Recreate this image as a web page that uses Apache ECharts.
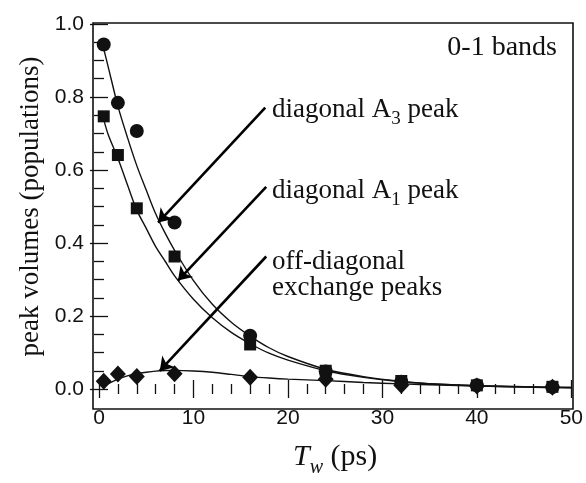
<!DOCTYPE html>
<html><head><meta charset="utf-8">
<script src="https://cdn.jsdelivr.net/npm/echarts@6/dist/echarts.min.js"></script>
<style>html,body{margin:0;padding:0;background:#fff}#c{width:586px;height:483px}</style>
</head><body><div id="c"></div>
<script>
// measured points
const markerX   = [0.5, 2, 4, 8, 16, 24, 32, 40, 48];
const a3Points  = [0.944, 0.784, 0.707, 0.456, 0.146, 0.048, 0.020, 0.010, 0.005];
const a1Points  = [0.747, 0.641, 0.495, 0.363, 0.122, 0.050, 0.022, 0.010, 0.006];
const exPoints  = [0.021, 0.041, 0.034, 0.042, 0.032, 0.027, 0.010, 0.008, 0.005];
// fitted curves
const curveX  = [0.5, 1, 2, 3, 4, 5, 6, 7, 8, 10, 12, 14, 16, 18, 20, 24, 28, 32, 36, 40, 45, 50];
const a3Curve = [0.932, 0.88, 0.775, 0.69, 0.612, 0.545, 0.48, 0.427, 0.38, 0.297, 0.232, 0.183, 0.145, 0.113, 0.089, 0.054, 0.034, 0.021, 0.013, 0.009, 0.006, 0.004];
const a1Curve = [0.738, 0.695, 0.632, 0.56, 0.49, 0.44, 0.39, 0.35, 0.31, 0.246, 0.195, 0.155, 0.124, 0.098, 0.079, 0.05, 0.032, 0.02, 0.013, 0.009, 0.005, 0.003];
const exCurve = [0.008, 0.015, 0.027, 0.036, 0.042, 0.046, 0.049, 0.0505, 0.051, 0.0495, 0.046, 0.04, 0.034, 0.03, 0.027, 0.023, 0.018, 0.014, 0.011, 0.008, 0.006, 0.004];
// annotation arrows (data coords)
const arrowFrom = [[17.6, 0.771], [17.7, 0.554], [17.7, 0.363]];
const arrowTo   = [[6.26, 0.456], [8.36, 0.297], [6.43, 0.0495]];
const xTickLabels = ['0', '10', '20', '30', '40', '50'];

const ink = '#111';
const sans = 'Liberation Sans';
const serif = 'Liberation Serif';
const pairs = (xs, ys) => xs.map((x, i) => [x, ys[i]]);

const tickCommon = {
  axisLine: { show: false },
  axisTick: { show: true, inside: true, length: 9, lineStyle: { color: ink, width: 1.3 } },
  minorTick: { show: true, length: 5, lineStyle: { color: ink, width: 1.3 } },
  splitLine: { show: false }
};

const chart = echarts.init(document.getElementById('c'), null, { renderer: 'canvas' });
const curveStyle = { color: ink, width: 1.4 };
const markStyle = { color: ink, opacity: 1 };
chart.setOption({
  animation: false,
  backgroundColor: '#fff',
  grid: [
    { left: 99, right: 13, top: 24, bottom: 81 },
    { left: 93, right: 13, top: 23, bottom: 74, show: true, borderColor: ink, borderWidth: 1.6, backgroundColor: 'transparent', z: 0 }
  ],
  xAxis: [
    Object.assign({}, tickCommon, {
      type: 'value', gridIndex: 0, position: 'bottom', min: 0, max: 50, interval: 10, offset: 7,
      minorTick: Object.assign({}, tickCommon.minorTick, { splitNumber: 5 }),
      axisLabel: { margin: 12, fontSize: 21, fontFamily: sans, color: ink,
        formatter: v => xTickLabels[Math.round(v / 10)] },
      name: '{i|T}{s|w}{n| (ps)}', nameLocation: 'middle', nameGap: 46,
      nameTextStyle: { rich: {
        i: { fontFamily: serif, fontStyle: 'italic', fontSize: 30, color: ink, lineHeight: 34, verticalAlign: 'top' },
        s: { fontFamily: serif, fontStyle: 'italic', fontSize: 20, color: ink, lineHeight: 20, verticalAlign: 'top', padding: [16, 0, 0, 0] },
        n: { fontFamily: serif, fontSize: 30, color: ink, lineHeight: 34, verticalAlign: 'top' }
      } }
    }),
    Object.assign({}, tickCommon, {
      type: 'value', gridIndex: 0, position: 'top', min: 0, max: 50, interval: 10, offset: 1,
      minorTick: Object.assign({}, tickCommon.minorTick, { splitNumber: 5 }),
      axisLabel: { show: false }
    }),
    { type: 'value', gridIndex: 1, show: false, min: 0, max: 1 }
  ],
  yAxis: [
    Object.assign({}, tickCommon, {
      type: 'value', gridIndex: 0, position: 'left', min: 0, max: 1, interval: 0.2, offset: 6,
      minorTick: Object.assign({}, tickCommon.minorTick, { splitNumber: 4 }),
      axisLabel: { margin: 9, fontSize: 21, fontFamily: sans, color: ink, formatter: v => v.toFixed(1) },
      name: 'peak volumes (populations)', nameLocation: 'middle', nameGap: 48,
      nameTextStyle: { fontFamily: serif, fontSize: 27, color: ink }
    }),
    Object.assign({}, tickCommon, {
      type: 'value', gridIndex: 0, position: 'right', min: 0, max: 1, interval: 0.2, offset: 0,
      minorTick: Object.assign({}, tickCommon.minorTick, { splitNumber: 4 }),
      axisLabel: { show: false }
    }),
    { type: 'value', gridIndex: 1, show: false, min: 0, max: 1 }
  ],
  series: [
    { type: 'line', xAxisIndex: 0, yAxisIndex: 0, data: pairs(curveX, a3Curve), showSymbol: false, smooth: 0.3, lineStyle: curveStyle, silent: true, z: 3,
      markLine: {
        silent: true, animation: false,
        symbol: ['none', 'arrow'], symbolSize: 13,
        lineStyle: { color: '#000', width: 2.6, type: 'solid' },
        label: { show: false },
        data: arrowFrom.map((f, i) => [{ coord: f }, { coord: arrowTo[i] }])
      }
    },
    { type: 'line', xAxisIndex: 0, yAxisIndex: 0, data: pairs(curveX, a1Curve), showSymbol: false, smooth: 0.3, lineStyle: curveStyle, silent: true, z: 3 },
    { type: 'line', xAxisIndex: 0, yAxisIndex: 0, data: pairs(curveX, exCurve), showSymbol: false, smooth: 0.3, lineStyle: curveStyle, silent: true, z: 3 },
    { type: 'scatter', xAxisIndex: 0, yAxisIndex: 0, data: pairs(markerX, a3Points), symbol: 'circle', symbolSize: 14, itemStyle: markStyle, z: 4 },
    { type: 'scatter', xAxisIndex: 0, yAxisIndex: 0, data: pairs(markerX, a1Points), symbol: 'rect', symbolSize: 12, itemStyle: markStyle, z: 4 },
    { type: 'scatter', xAxisIndex: 0, yAxisIndex: 0, data: pairs(markerX, exPoints), symbol: 'diamond', symbolSize: [16, 17], itemStyle: markStyle, z: 4 }
  ],
  graphic: [
    { type: 'text', left: 272, top: 96, style: { text: '{m|diagonal A}{s|3}{m| peak}', fill: ink,
      rich: { m: { fontFamily: serif, fontSize: 27, lineHeight: 30, verticalAlign: 'top' },
              s: { fontFamily: serif, fontSize: 19, lineHeight: 19, verticalAlign: 'top', padding: [14, 0, 0, 0] } } } },
    { type: 'text', left: 272, top: 177, style: { text: '{m|diagonal A}{s|1}{m| peak}', fill: ink,
      rich: { m: { fontFamily: serif, fontSize: 27, lineHeight: 30, verticalAlign: 'top' },
              s: { fontFamily: serif, fontSize: 19, lineHeight: 19, verticalAlign: 'top', padding: [14, 0, 0, 0] } } } },
    { type: 'text', left: 272, top: 248, style: { text: 'off-diagonal\nexchange peaks', fill: ink, font: '27px "Liberation Serif"', lineHeight: 26 } },
    { type: 'text', right: 29, top: 34, style: { text: '0-1 bands', fill: ink, font: '28px "Liberation Serif"' } }
  ]
});
</script></body></html>
